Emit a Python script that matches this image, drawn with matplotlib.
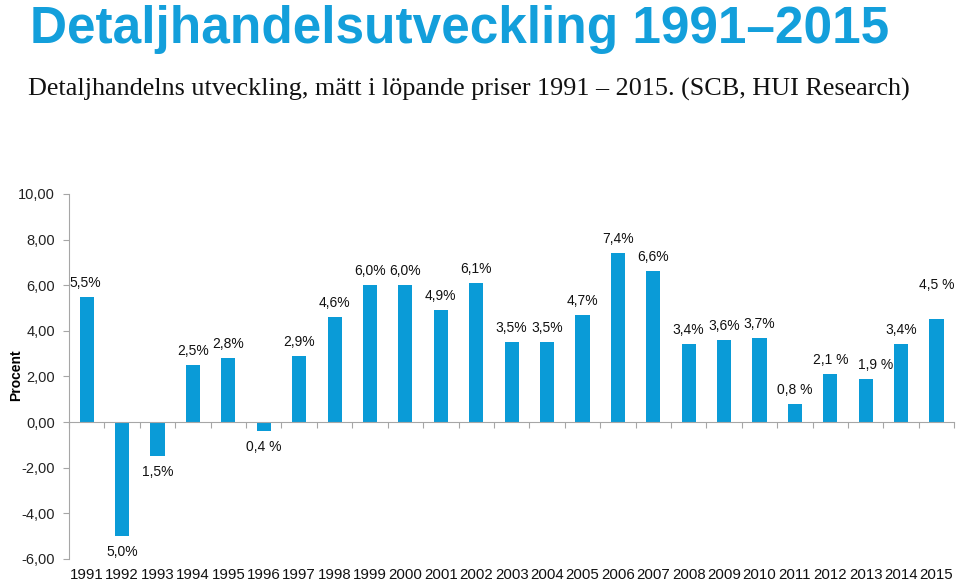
import numpy as np
import matplotlib
matplotlib.use("Agg")
import matplotlib.pyplot as plt
from matplotlib.transforms import blended_transform_factory

years = list(range(1991, 2016))
values = [5.5, -5.0, -1.5, 2.5, 2.8, -0.4, 2.9, 4.6, 6.0, 6.0, 4.9, 6.1, 3.5, 3.5,
          4.7, 7.4, 6.6, 3.4, 3.6, 3.7, 0.8, 2.1, 1.9, 3.4, 4.5]
labels = ["5,5%", "5,0%", "1,5%", "2,5%", "2,8%", "0,4 %", "2,9%", "4,6%", "6,0%",
          "6,0%", "4,9%", "6,1%", "3,5%", "3,5%", "4,7%", "7,4%", "6,6%", "3,4%",
          "3,6%", "3,7%", "0,8 %", "2,1 %", "1,9 %", "3,4%", "4,5 %"]
yticks = [-6, -4, -2, 0, 2, 4, 6, 8, 10]

blue = "#0a9bd7"
grey = "#a6a6a6"
plt.rcParams['font.family'] = ['Liberation Sans', 'DejaVu Sans']

fig = plt.figure(figsize=(9.59, 5.84), dpi=100)
ax = fig.add_axes([0.072, 0.043, 0.923, 0.625])

x = np.arange(len(years))
ax.bar(x, values, width=0.4, color=blue, zorder=2)
ax.set_xlim(-0.5, len(years) - 0.5)
ax.set_ylim(-6, 10)

# data labels, a few nudged like in the original
nudge = {22: (10, 0), 24: (0, 20), 0: (-2, 0)}
for i, (v, lab) in enumerate(zip(values, labels)):
    dx, dy = nudge.get(i, (0, 0))
    off = 14 if v >= 0 else -16
    ax.annotate(lab, (x[i], v), xytext=(dx, off + dy), textcoords='offset pixels',
                ha='center', va='center', fontsize=10, color='#111111')

for s in ['top', 'right']:
    ax.spines[s].set_visible(False)
ax.spines['left'].set_color(grey)
ax.spines['bottom'].set_color(grey)
ax.spines['bottom'].set_position(('data', 0))
ax.set_yticks(yticks)
ax.set_yticklabels([f"{t:.2f}".replace('.', ',') for t in yticks], fontsize=10.5, color='#222222')
ax.tick_params(axis='y', length=4, color=grey, pad=6)
ax.set_xticks(np.arange(-0.5, len(years), 1))
ax.set_xticklabels([])
ax.tick_params(axis='x', length=4, color=grey, direction='out')

tr = blended_transform_factory(ax.transData, ax.transAxes)
for i, yr in enumerate(years):
    ax.text(x[i], -0.045, str(yr), transform=tr, ha='center', va='center', fontsize=10.8,
            color='#111111')

fig.text(0.009, 0.358, "Procent", rotation=90, ha='left', va='center', fontsize=10,
         fontweight='bold')
fig.text(0.031, 0.95, "Detaljhandelsutveckling 1991\u20132015", ha='left', va='center',
         fontsize=37, fontweight='bold', color="#139fdb")
fig.text(0.029, 0.847, "Detaljhandelns utveckling, mätt i löpande priser 1991 \u2013 2015. (SCB, HUI Research)",
         ha='left', va='center', fontsize=18.8, family=['Liberation Serif', 'DejaVu Serif'],
         color='#111111')

fig.savefig("out.png", dpi=100)
